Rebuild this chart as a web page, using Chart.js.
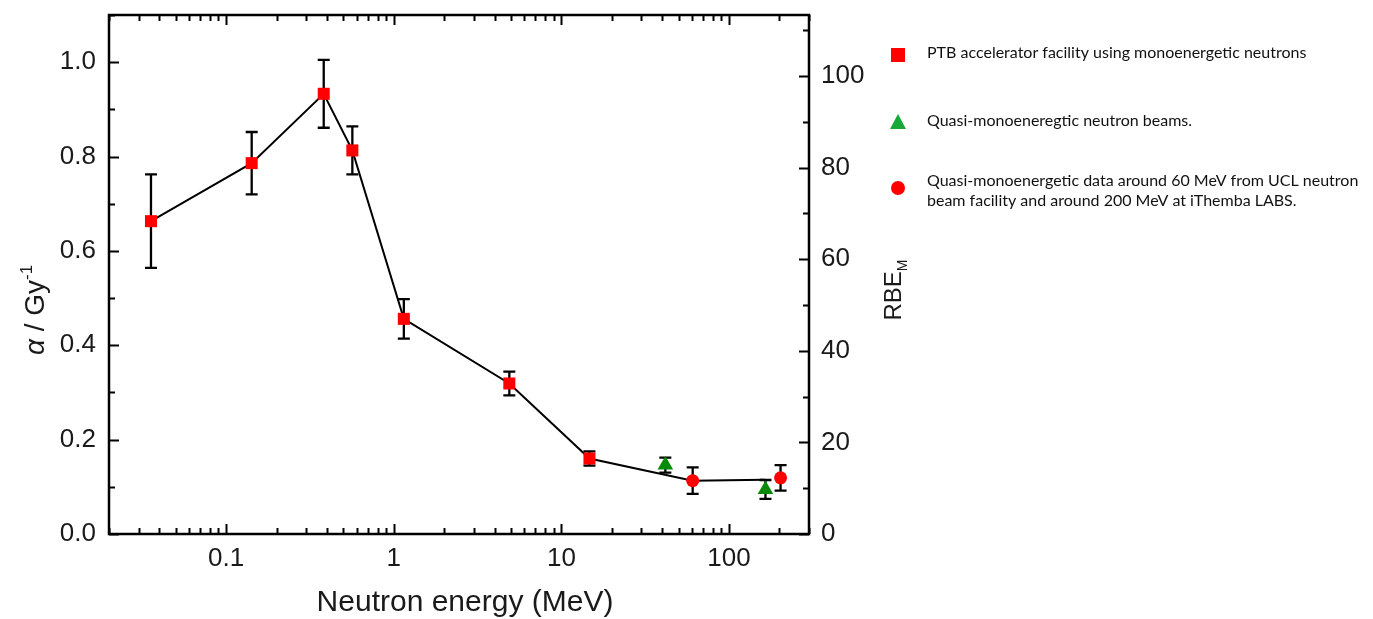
<!DOCTYPE html>
<html><head><meta charset="utf-8">
<script src="https://cdn.jsdelivr.net/npm/chart.js@4.4.1/dist/chart.umd.min.js"></script>
<style>html,body{margin:0;padding:0;background:#fff;overflow:hidden}canvas{display:block}</style>
</head><body>
<canvas id="c" width="1373" height="619"></canvas>
<script>
// ---- data ----
const ptbEnergy = [0.0356, 0.142, 0.382, 0.566, 1.148, 4.89, 14.7];
const ptbAlpha  = [0.663, 0.786, 0.933, 0.813, 0.456, 0.319, 0.160];
const ptbErr    = [0.099, 0.066, 0.072, 0.051, 0.042, 0.025, 0.015];

const quasiEnergy = [41.7, 165];
const quasiAlpha  = [0.146, 0.0945];
const quasiErr    = [0.016, 0.020];

const uclEnergy = [60.7, 203];
const uclAlpha  = [0.113, 0.119];
const uclErr    = [0.028, 0.027];

const trendEnergy = [0.0356, 0.142, 0.382, 0.566, 1.148, 4.89, 14.7, 60.7, 163];
const trendAlpha  = [0.663, 0.786, 0.933, 0.813, 0.456, 0.319, 0.160, 0.113, 0.115];

const xTickValues = [0.1, 1, 10, 100];
const leftTickValues = [0, 0.2, 0.4, 0.6, 0.8, 1.0];
const rightTickValues = [0, 20, 40, 60, 80, 100];

const legendLabels = [
  ["PTB accelerator facility using monoenergetic neutrons"],
  ["Quasi-monoeneregtic neutron beams."],
  ["Quasi-monoenergetic data around 60 MeV from UCL neutron", "beam facility and around 200 MeV at iThemba LABS."]
];

const xTitle = "Neutron energy (MeV)";

// ---- helpers ----
const FONT = "'Liberation Sans', Arial, sans-serif";
const pts = (xs, ys) => xs.map((x, i) => ({x: x, y: ys[i]}));

const errorBars = {
  id: 'errorBars',
  beforeDatasetsDraw(chart) {
    const ctx = chart.ctx;
    const xs = chart.scales.x, ys = chart.scales.y;
    ctx.save();
    ctx.strokeStyle = '#000';
    ctx.lineWidth = 2.3;
    chart.data.datasets.forEach(ds => {
      if (!ds.errorValues) return;
      ds.data.forEach((p, i) => {
        const e = ds.errorValues[i];
        const px = xs.getPixelForValue(p.x);
        const y1 = ys.getPixelForValue(p.y + e);
        const y2 = ys.getPixelForValue(p.y - e);
        ctx.beginPath();
        ctx.moveTo(px, y1); ctx.lineTo(px, y2);
        ctx.moveTo(px - 6, y1); ctx.lineTo(px + 6, y1);
        ctx.moveTo(px - 6, y2); ctx.lineTo(px + 6, y2);
        ctx.stroke();
      });
    });
    ctx.restore();
  }
};

const frame = {
  id: 'frame',
  afterDraw(chart) {
    const ctx = chart.ctx, a = chart.chartArea;
    const xs = chart.scales.x, ys = chart.scales.y, y2 = chart.scales.y2;
    ctx.save();
    ctx.strokeStyle = '#000';
    ctx.lineWidth = 2.5;
    ctx.strokeRect(a.left, a.top, a.right - a.left, a.bottom - a.top);
    ctx.lineWidth = 2;
    ctx.beginPath();
    for (let d = 0.01; d < 1000; d *= 10) {
      for (let m = 1; m <= 9; m++) {
        const v = m * d;
        if (v < xs.min * 0.999 || v > xs.max * 1.001) continue;
        const px = Math.round(xs.getPixelForValue(v)) + 0.5;
        const len = m === 1 ? 10 : 6;
        ctx.moveTo(px, a.bottom); ctx.lineTo(px, a.bottom - len);
        ctx.moveTo(px, a.top); ctx.lineTo(px, a.top + len);
      }
    }
    for (let k = 0; k <= 11; k++) {
      const v = k / 10;
      const py = Math.round(ys.getPixelForValue(v)) + 0.5;
      const len = k % 2 === 0 ? 10 : 6;
      ctx.moveTo(a.left, py); ctx.lineTo(a.left + len, py);
    }
    for (let k = 0; k <= 11; k++) {
      const v = k * 10;
      const py = Math.round(y2.getPixelForValue(v)) + 0.5;
      const len = k % 2 === 0 ? 10 : 6;
      ctx.moveTo(a.right, py); ctx.lineTo(a.right - len, py);
    }
    ctx.stroke();
    ctx.restore();
  }
};

const titles = {
  id: 'titles',
  afterDraw(chart) {
    const ctx = chart.ctx;
    ctx.save();
    ctx.fillStyle = '#1a1a1a';
    ctx.font = '30px ' + FONT;
    ctx.textAlign = 'center';
    ctx.textBaseline = 'alphabetic';
    ctx.fillText(xTitle, 465, 611);

    ctx.save();
    ctx.translate(44, 310);
    ctx.rotate(-Math.PI / 2);
    ctx.textAlign = 'left';
    const fA = 'italic 28px ' + FONT, fN = '28px ' + FONT, fS = '17px ' + FONT;
    ctx.font = fA; const wA = ctx.measureText('α').width;
    ctx.font = fN; const wN = ctx.measureText(' / Gy').width;
    ctx.font = fS; const wS = ctx.measureText('-1').width;
    let sx = -(wA + wN + wS) / 2;
    ctx.font = fA; ctx.fillText('α', sx, 0); sx += wA;
    ctx.font = fN; ctx.fillText(' / Gy', sx, 0); sx += wN;
    ctx.font = fS; ctx.fillText('-1', sx, -12);
    ctx.restore();

    ctx.save();
    ctx.translate(901, 290);
    ctx.rotate(-Math.PI / 2);
    ctx.textAlign = 'left';
    const fR = '24px ' + FONT, fM = '14px ' + FONT;
    ctx.font = fR; const wR = ctx.measureText('RBE').width;
    ctx.font = fM; const wM = ctx.measureText('M').width;
    let rx = -(wR + wM) / 2;
    ctx.font = fR; ctx.fillText('RBE', rx, 0); rx += wR;
    ctx.font = fM; ctx.fillText('M', rx, 6);
    ctx.restore();

    const lf = "Lato, 'Open Sans', sans-serif";
    ctx.font = '16px ' + lf;
    const w0 = ctx.measureText(legendLabels[0][0]).width;
    const size = Math.min(20, Math.max(12, 16 * 380 / w0));
    ctx.font = size.toFixed(1) + 'px ' + lf;
    ctx.fillStyle = '#111';
    ctx.textAlign = 'left';
    ctx.textBaseline = 'middle';
    const rows = [[53], [121], [181, 201]];
    legendLabels.forEach((lines, i) => {
      lines.forEach((t, j) => ctx.fillText(t, 927, rows[i][j]));
    });
    ctx.fillStyle = '#ff0000';
    ctx.fillRect(891, 48, 14, 14);
    ctx.fillStyle = '#18a838';
    ctx.beginPath();
    ctx.moveTo(898, 114); ctx.lineTo(906, 129); ctx.lineTo(890, 129); ctx.closePath(); ctx.fill();
    ctx.fillStyle = '#ff0000';
    ctx.beginPath(); ctx.arc(898, 188, 7, 0, Math.PI * 2); ctx.fill();
    ctx.restore();
  }
};

const tickFont = {family: FONT, size: 26};
const zeroPad = s => { s.paddingTop = 0; s.paddingBottom = 0; s.paddingLeft = 0; s.paddingRight = 0; };

new Chart(document.getElementById('c'), {
  type: 'scatter',
  data: {
    datasets: [
      {
        label: 'PTB', data: pts(ptbEnergy, ptbAlpha), errorValues: ptbErr,
        pointStyle: 'rect', pointRadius: 8.5, backgroundColor: '#ff0000', borderWidth: 0, order: 1
      },
      {
        label: 'Quasi', data: pts(quasiEnergy, quasiAlpha), errorValues: quasiErr,
        pointStyle: 'triangle', pointRadius: 9, backgroundColor: '#078a07', borderWidth: 0, order: 1
      },
      {
        label: 'UCL', data: pts(uclEnergy, uclAlpha), errorValues: uclErr,
        pointStyle: 'circle', pointRadius: 6.5, backgroundColor: '#ff0000', borderWidth: 0, order: 1
      },
      {
        label: 'trend', data: pts(trendEnergy, trendAlpha), showLine: true,
        borderColor: '#000', borderWidth: 2, pointRadius: 0, order: 5, tension: 0
      }
    ]
  },
  options: {
    responsive: false,
    animation: false,
    devicePixelRatio: 1,
    layout: {padding: {top: 15, left: 0, right: 0, bottom: 0}},
    plugins: {legend: {display: false}, tooltip: {enabled: false}},
    scales: {
      x: {
        type: 'logarithmic', position: 'bottom', min: 0.02, max: 300,
        afterBuildTicks: s => { s.ticks = xTickValues.map(v => ({value: v})); },
        afterFit: s => { s.height = 85; zeroPad(s); },
        ticks: {font: tickFont, color: '#1a1a1a', padding: 9, autoSkip: false, maxRotation: 0,
                callback: v => String(v)},
        grid: {display: false, drawTicks: false},
        border: {display: false}
      },
      y: {
        type: 'linear', position: 'left', min: 0, max: 1.1,
        afterBuildTicks: s => { s.ticks = leftTickValues.map(v => ({value: v})); },
        afterFit: s => { s.width = 109; zeroPad(s); },
        ticks: {font: tickFont, color: '#1a1a1a', padding: 13, callback: v => Number(v).toFixed(1)},
        grid: {display: false, drawTicks: false},
        border: {display: false}
      },
      y2: {
        type: 'linear', position: 'right', min: 0, max: 113.3,
        afterBuildTicks: s => { s.ticks = rightTickValues.map(v => ({value: v})); },
        afterFit: s => { s.width = 564; zeroPad(s); },
        ticks: {font: tickFont, color: '#1a1a1a', padding: 12, callback: v => String(v)},
        grid: {display: false, drawTicks: false},
        border: {display: false}
      }
    }
  },
  plugins: [errorBars, frame, titles]
});
</script>
</body></html>
